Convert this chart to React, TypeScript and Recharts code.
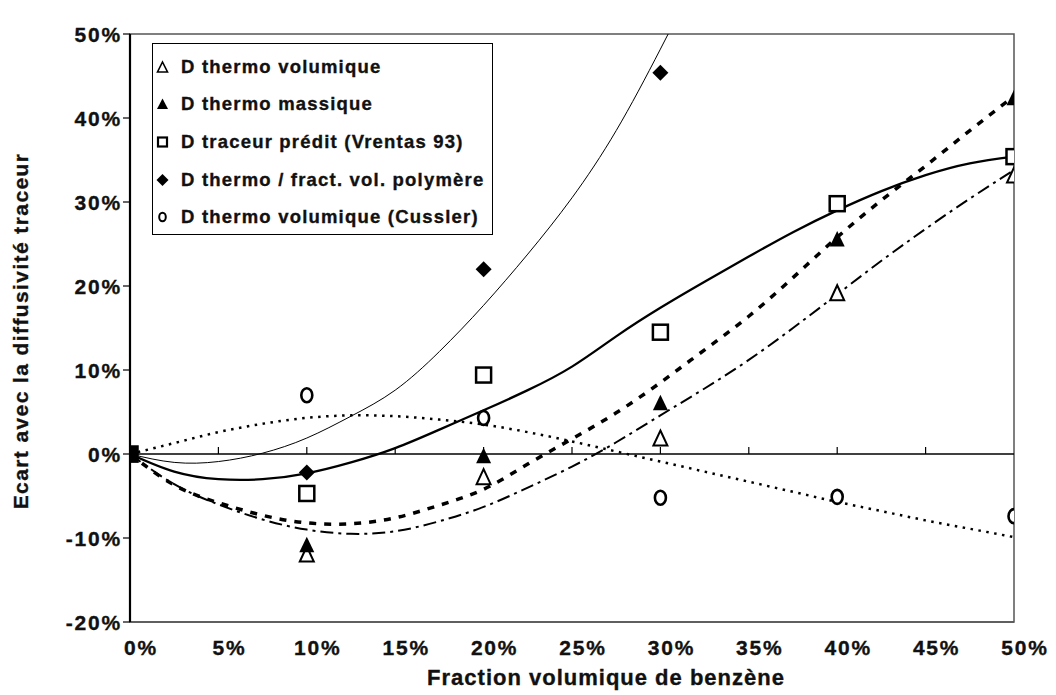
import React from 'react'
import {
  ComposedChart,
  Line,
  Scatter,
  XAxis,
  YAxis,
  ReferenceLine,
  ReferenceArea,
  Legend,
} from 'recharts'

const FONT = "'Liberation Sans', Arial, Helvetica, sans-serif"

// axes
const X_TICKS = [0, 5, 10, 15, 20, 25, 30, 35, 40, 45, 50]
const Y_TICKS = [-20, -10, 0, 10, 20, 30, 40, 50]

// measured points (% deviation vs. benzene volume fraction %)
const POINT_X = [0, 10, 20, 30, 40, 50]
const thermoVolumique = [0, -11.9, -2.7, 1.9, 19.2, 33.2]
const thermoMassique = [0, -10.8, -0.2, 6.1, 25.6, 42.4]
const traceurPredit = [0, -4.7, 9.4, 14.5, 29.8, 35.4]
const POLY_X = [0, 10, 20, 30]
const thermoPolymere = [0, -2.2, 22.0, 45.4]
const thermoCussler = [0, 7.0, 4.3, -5.2, -5.1, -7.4]

// trend curves
const TREND_X = [0, 2.5, 5, 7.5, 10, 12.5, 15, 17.5, 20, 22.5, 25, 27.5, 30, 32.5, 35, 37.5, 40, 42.5, 45, 47.5, 50]
const trendVolumique = [0, -3.6, -6.0, -7.8, -9.0, -9.5, -9.2, -8.0, -6.3, -4.0, -1.5, 1.4, 4.6, 7.8, 11.2, 15.0, 19.0, 23.0, 26.8, 30.4, 33.8]
const trendMassique = [0, -3.7, -5.8, -7.3, -8.2, -8.3, -7.6, -6.1, -4.2, -1.2, 1.8, 4.9, 8.5, 12.4, 16.4, 21.0, 25.8, 30.2, 34.3, 38.5, 42.6]
const trendTraceur = [0, -2.1, -3.0, -3.0, -2.3, -1.0, 0.7, 2.9, 5.2, 7.6, 10.4, 14.0, 17.4, 20.5, 23.5, 26.4, 29.0, 31.3, 33.2, 34.6, 35.4]
const trendPolymere = [0, -1.0, -0.9, 0.1, 1.9, 4.5, 7.6, 12.2, 17.7, 23.8, 30.5, 38.5, 48.2, 58.5]
const trendCussler = [0, 1.3, 2.6, 3.6, 4.3, 4.6, 4.5, 4.1, 3.5, 2.6, 1.5, 0.3, -0.9, -2.1, -3.3, -4.5, -5.7, -6.8, -7.9, -8.9, -9.9]

const LEGEND_LABELS = [
  'D thermo volumique',
  'D thermo massique',
  'D traceur prédit (Vrentas 93)',
  'D thermo / fract. vol. polymère',
  'D thermo volumique (Cussler)',
]

const toPoints = (xs: number[], ys: number[]) => ys.map((y, i) => ({ x: xs[i], y }))

const OpenTriangle = ({ cx, cy }: any) => (
  <polygon
    points={`${cx},${cy - 7.5} ${cx + 7},${cy + 7.5} ${cx - 7},${cy + 7.5}`}
    fill="#fff"
    stroke="#000"
    strokeWidth={2}
  />
)

const FilledTriangle = ({ cx, cy }: any) => (
  <polygon points={`${cx},${cy - 8} ${cx + 7.5},${cy + 7.5} ${cx - 7.5},${cy + 7.5}`} fill="#000" />
)

// at the origin every series coincides, which prints as a solid block
const OpenSquare = ({ cx, cy, payload }: any) => (
  <rect
    x={cx - 7.5}
    y={cy - 7.5}
    width={15}
    height={15}
    fill={payload && payload.x === 0 ? '#000' : '#fff'}
    stroke="#000"
    strokeWidth={2.5}
  />
)

const Diamond = ({ cx, cy }: any) => (
  <polygon points={`${cx},${cy - 8} ${cx + 8},${cy} ${cx},${cy + 8} ${cx - 8},${cy}`} fill="#000" />
)

const OpenCircle = ({ cx, cy }: any) => (
  <ellipse cx={cx} cy={cy} rx={5.5} ry={7} fill="#fff" stroke="#000" strokeWidth={2.6} />
)

const ZeroAxis = (props: any) => {
  const { x1, y1, x2, y2 } = props
  const n = X_TICKS.length - 1
  return (
    <g>
      <line x1={x1} y1={y1} x2={x2} y2={y2} stroke="#000" strokeWidth={1.5} />
      {X_TICKS.slice(1, -1).map((t, i) => {
        const x = x1 + ((x2 - x1) * (i + 1)) / n
        return <line key={t} x1={x} x2={x} y1={y1} y2={y1 - 7} stroke="#000" strokeWidth={1.2} />
      })}
    </g>
  )
}

const textStyle = {
  fontFamily: FONT,
  fontWeight: 700,
  fill: '#111',
  stroke: '#111',
  strokeWidth: 0.35,
}

const XTick = ({ x, y, payload }: any) => (
  <text x={x + 11} y={y + 33} textAnchor="middle" fontSize={21} style={{ ...textStyle, letterSpacing: 1.8 }}>
    {`${payload.value}%`}
  </text>
)

const YTick = ({ x, y, payload }: any) => (
  <text x={x + 1} y={y + 8} textAnchor="end" fontSize={21} style={{ ...textStyle, letterSpacing: 1.8 }}>
    {`${payload.value}%`}
  </text>
)

const XTitle = ({ viewBox }: any) => (
  <text
    x={viewBox.x + viewBox.width / 2 + 34}
    y={685}
    textAnchor="middle"
    fontSize={22}
    style={{ ...textStyle, letterSpacing: 1 }}
  >
    Fraction volumique de benzène
  </text>
)

const YTitle = () => (
  <text
    x={28}
    y={331}
    transform="rotate(-90 28 331)"
    textAnchor="middle"
    fontSize={21}
    style={{ ...textStyle, letterSpacing: 1.4 }}
  >
    Ecart avec la diffusivité traceur
  </text>
)

const legendMarkers = [
  <polygon key="a" points="9.5,3 14.5,13 4.5,13" fill="#fff" stroke="#000" strokeWidth={1.6} />,
  <polygon key="b" points="9.5,2.5 15,13 4,13" fill="#000" />,
  <rect key="c" x={5} y={3.5} width={9} height={9} fill="#fff" stroke="#000" strokeWidth={2.2} />,
  <polygon key="d" points="9.5,2 15.5,8 9.5,14 3.5,8" fill="#000" />,
  <ellipse key="e" cx={9.5} cy={8} rx={3.3} ry={4.3} fill="#fff" stroke="#000" strokeWidth={2} />,
]

const LegendBox = () => (
  <div
    style={{
      width: 341,
      height: 192,
      boxSizing: 'border-box',
      border: '1.5px solid #000',
      background: '#fff',
      paddingTop: 4,
      fontFamily: FONT,
      fontWeight: 700,
      fontSize: 18.5,
      letterSpacing: 1.2,
      color: '#111',
      WebkitTextStroke: '0.35px #111',
    }}
  >
    {LEGEND_LABELS.map((label, i) => (
      <div key={label} style={{ height: 37.6, display: 'flex', alignItems: 'center', whiteSpace: 'nowrap' }}>
        <svg width={28} height={16} style={{ flex: 'none' }}>
          {legendMarkers[i]}
        </svg>
        <span>{label}</span>
      </div>
    ))}
  </div>
)

export default function App() {
  return (
    <div style={{ position: 'absolute', left: 0, top: 0, background: '#fff' }}>
      <ComposedChart width={1056} height={695} margin={{ top: 34, right: 42, bottom: 0, left: 0 }}>
        <XAxis
          type="number"
          dataKey="x"
          domain={[0, 50]}
          ticks={X_TICKS}
          allowDataOverflow
          height={73}
          tickSize={0}
          tickMargin={0}
          tickLine={false}
          axisLine={{ stroke: '#555', strokeWidth: 1.5 }}
          tick={<XTick />}
          label={<XTitle />}
        />
        <YAxis
          type="number"
          domain={[-20, 50]}
          ticks={Y_TICKS}
          allowDataOverflow
          width={130}
          tickSize={7}
          tickMargin={2}
          tickLine={{ stroke: '#000', strokeWidth: 1.2 }}
          axisLine={{ stroke: '#000', strokeWidth: 2.2 }}
          tick={<YTick />}
          label={<YTitle />}
        />
        <ReferenceArea x1={0} x2={50} y1={-20} y2={50} fill="none" stroke="#555" strokeWidth={1.5} />
        <ReferenceLine y={0} shape={<ZeroAxis />} />

        <Line data={toPoints(TREND_X, trendPolymere)} dataKey="y" type="natural" stroke="#000" strokeWidth={1} dot={false} activeDot={false} isAnimationActive={false} />
        <Line data={toPoints(TREND_X, trendTraceur)} dataKey="y" type="natural" stroke="#000" strokeWidth={2.3} dot={false} activeDot={false} isAnimationActive={false} />
        <Line data={toPoints(TREND_X, trendMassique)} dataKey="y" type="natural" stroke="#000" strokeWidth={3.5} strokeDasharray="7 8" dot={false} activeDot={false} isAnimationActive={false} />
        <Line data={toPoints(TREND_X, trendVolumique)} dataKey="y" type="natural" stroke="#000" strokeWidth={2} strokeDasharray="13 5 3 5" dot={false} activeDot={false} isAnimationActive={false} />
        <Line data={toPoints(TREND_X, trendCussler)} dataKey="y" type="natural" stroke="#000" strokeWidth={2.5} strokeDasharray="2.5 5.5" dot={false} activeDot={false} isAnimationActive={false} />

        <Scatter data={toPoints(POINT_X, thermoVolumique)} dataKey="y" shape={<OpenTriangle />} isAnimationActive={false} />
        <Scatter data={toPoints(POINT_X, thermoMassique)} dataKey="y" shape={<FilledTriangle />} isAnimationActive={false} />
        <Scatter data={toPoints(POLY_X, thermoPolymere)} dataKey="y" shape={<Diamond />} isAnimationActive={false} />
        <Scatter data={toPoints(POINT_X, thermoCussler)} dataKey="y" shape={<OpenCircle />} isAnimationActive={false} />
        <Scatter data={toPoints(POINT_X, traceurPredit)} dataKey="y" shape={<OpenSquare />} isAnimationActive={false} />

        <Legend
          layout="horizontal"
          verticalAlign="middle"
          align="center"
          content={() => <LegendBox />}
          wrapperStyle={{ left: 152, top: 43, width: 341, height: 192 }}
        />
      </ComposedChart>
    </div>
  )
}
